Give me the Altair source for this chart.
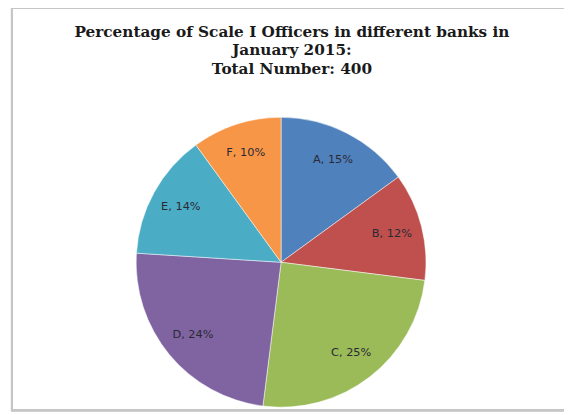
import altair as alt
import pandas as pd

banks = ["A", "B", "C", "D", "E", "F"]
percents = [15, 12, 25, 24, 14, 10]
colors = ["#4F81BD", "#C0504D", "#9BBB59", "#8064A2", "#4BACC6", "#F79646"]
title_lines = ["Percentage of Scale I Officers in different banks in", "January  2015:", "Total Number:  400"]

df = pd.DataFrame({"bank": banks, "pct": percents, "idx": list(range(len(banks)))})
df["label"] = [f"{b}, {p}%" for b, p in zip(banks, percents)]

CX, CY = 277, 255

base = alt.Chart(df).encode(
    theta=alt.Theta("pct:Q", stack=True),
    order=alt.Order("idx:Q"),
)

pie = base.mark_arc(radius=147, stroke="#ffffff", strokeWidth=0.5).encode(
    x=alt.value(CX), y=alt.value(CY),
    color=alt.Color("bank:N", scale=alt.Scale(domain=banks, range=colors), legend=None),
)

labels = base.mark_text(radius=116, font="DejaVu Sans", fontSize=11.5,
                        color="#2a2a35").encode(
    x=alt.value(CX), y=alt.value(CY),
    text="label:N",
)

border = alt.Chart(df).mark_rect(fill=None, stroke="#c6c6c6", strokeWidth=2).encode(
    x=alt.value(4), x2=alt.value(570), y=alt.value(-3), y2=alt.value(405)
)

tdf = pd.DataFrame({"line": title_lines, "n": [0, 1, 2]})
title_layers = []
for i, line in enumerate(title_lines):
    title_layers.append(
        alt.Chart(tdf[tdf.n == i]).mark_text(
            font="DejaVu Serif", fontSize=15.5, fontWeight="bold", color="#1a1a1a",
            align="center", baseline="middle",
        ).encode(x=alt.value(288), y=alt.value(21 + 19 * i), text="line:N")
    )

chart = alt.layer(border, pie, labels, *title_layers).properties(
    width=564, height=407, autosize=alt.AutoSizeParams(type="none"), padding=0,
).configure_view(stroke=None)

chart.save("out.html", embed_options={"renderer": "svg", "actions": False})
